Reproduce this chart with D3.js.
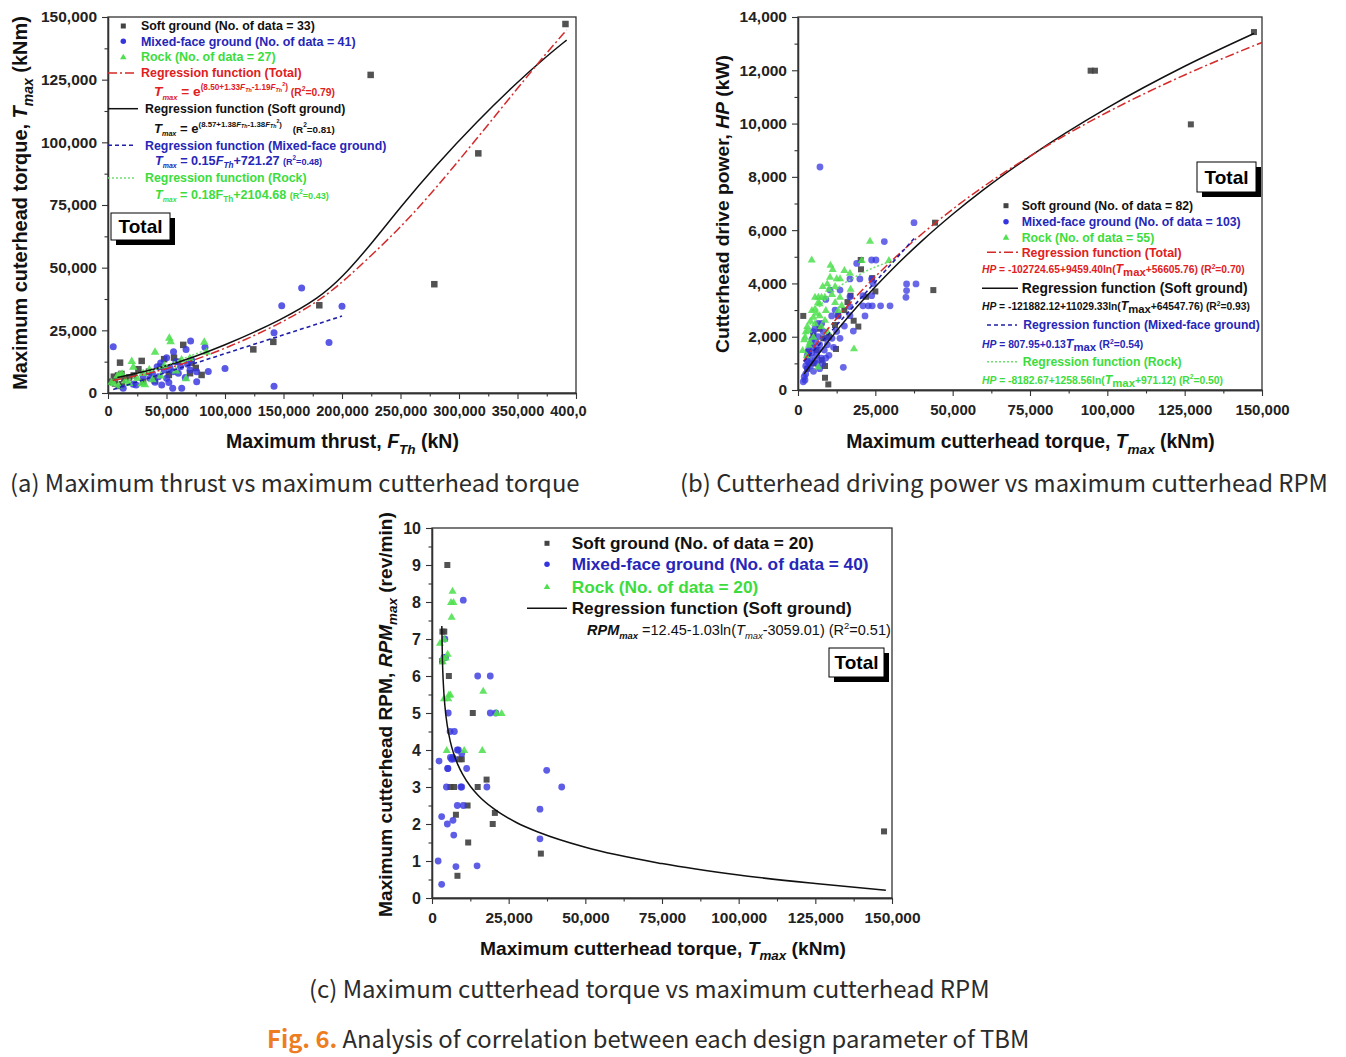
<!DOCTYPE html>
<html><head><meta charset="utf-8">
<script src="https://cdn.jsdelivr.net/npm/d3@7"></script>
<style>body{margin:0;background:#fff}svg{display:block}text{white-space:pre}</style>
</head><body>
<svg id="c" width="1346" height="1057"></svg>
<script>
// ---------------- DATA ----------------
// Panel (a): maximum thrust (kN) vs maximum cutterhead torque (kNm)
const xTicksA = [0,50000,100000,150000,200000,250000,300000,350000,400000];
const yTicksA = [0,25000,50000,75000,100000,125000,150000];
const softA = [[391000,147200],[224500,126900],[316500,95600],[278900,43400],[180600,35000],[141300,20400],[124200,17400],[80000,7200],[10300,12100],[28800,12800],[64300,19200],[56400,14100],[71400,12100],[70100,7900],[8500,7000],[11500,7600],[6000,3800],[9500,2800],[5000,6500],[14000,5500],[22000,7000],[35000,8500],[45000,10500],[52000,7200],[60000,12500],[40000,5000],[30000,4500],[18000,6200],[75000,10000],[48000,13500],[26000,9500],[12000,3500],[3500,4500]];
const mixedA = [[4500,18500],[165500,41900],[148500,34800],[200000,34600],[188900,20100],[141900,24000],[141900,2700],[100000,9800],[85700,8600],[82900,18300],[70600,20700],[66700,17400],[50100,14100],[71400,13200],[35900,5900],[43000,6500],[50100,5900],[53000,10100],[55800,8500],[60100,7900],[70100,9200],[75800,8500],[75800,4500],[63000,1900],[55300,1900],[45900,3200],[40200,4300],[21600,3500],[24000,3200],[13000,1900],[58000,12500],[62000,10500],[48000,9200],[38000,7800],[66000,6200],[30000,6800],[52000,4200],[45000,12000],[68000,11500],[56000,16500],[42000,10500]];
const rockA = [[40200,16500],[52400,22100],[53500,20700],[82300,20500],[84300,16500],[20300,12800],[21600,10500],[62900,13400],[35300,9500],[66700,5900],[28700,3900],[31600,3500],[3100,4500],[8000,7000],[10000,7500],[5000,4000],[9000,3000],[12000,7800],[15000,5000],[25000,6000],[45000,7000],[58000,9000],[38000,5500],[18000,4000],[70000,14000],[48000,11000],[30000,8000]];
const regTotalA = [[4000,5000],[50000,9100],[100000,17500],[150000,28250],[180000,36800],[200000,43800],[250000,65800],[280000,81550],[315000,101300],[350000,121600],[375000,135750],[392000,144800]];
const regSoftA = [[8000,6200],[50000,10300],[100000,18900],[150000,29600],[180000,37850],[200000,45950],[225000,59450],[250000,74200],[280000,90700],[315000,108200],[350000,124100],[375000,134400],[392000,140800]];
const regMixedA = [[4500,1400],[200000,30700]];
const regRockA = [[5000,3000],[85000,17400]];

// Panel (b): maximum cutterhead torque (kNm) vs cutterhead drive power (kW)
const xTicksB = [0,25000,50000,75000,100000,125000,150000];
const yTicksB = [0,2000,4000,6000,8000,10000,12000,14000];
const softB = [[147400,13435],[94600,11985],[96000,11985],[127000,9970],[44300,6280],[43750,3750],[20270,4880],[20370,4530],[17000,3540],[1700,2780],[11960,2440],[19500,2380],[4950,2060],[8180,1940],[12290,1540],[3330,1440],[7660,1125],[8730,900],[8730,460],[9800,210],[22000,3500],[25000,3700],[15000,3000],[10000,2000],[6000,1500],[13000,2800],[5000,1000],[3000,800],[24000,4200],[18000,2600],[7000,2300],[16000,3300]];
const mixedB = [[7100,8370],[37500,6280],[35100,3980],[38150,3980],[35100,3730],[34900,3480],[27900,5570],[18970,4750],[23800,4880],[25200,4880],[16800,4170],[20000,4170],[23800,4170],[24300,4000],[10350,3750],[13580,3750],[16800,3500],[21000,3540],[23800,3540],[9000,3400],[21000,3160],[22740,3160],[24000,3160],[26700,3160],[29750,3160],[16800,3130],[10900,2780],[7660,2500],[13000,2780],[16800,2790],[21660,2780],[17880,2210],[8180,2190],[4950,2190],[13580,1940],[11000,1940],[9000,1940],[3330,1375],[14650,850],[2260,375],[1700,310],[2500,600],[3000,800],[3500,1000],[4000,1200],[4500,1400],[5000,1600],[5500,1800],[6000,1300],[6500,1500],[7000,1700],[3000,1100],[4000,900],[5000,700],[6000,1000],[7500,1200],[8500,1500],[9500,1700],[2000,500],[2500,900],[3500,1500],[4500,1900],[5500,1100],[6500,2000],[8000,1000],[10000,1300],[11500,1600],[12500,2200],[7000,800],[9000,1200],[4000,1700],[5500,2300],[3000,1300],[6500,2500],[12000,3000],[15000,2400]];
const rockB = [[23280,5600],[29400,4880],[4430,4900],[20600,4880],[11200,4540],[16800,4400],[10350,4250],[9480,4000],[12500,4190],[13600,4190],[13580,3500],[5500,3500],[6600,3500],[7600,3500],[8700,3500],[14130,3190],[5500,3060],[7000,3250],[4950,2750],[8730,2630],[2260,2000],[3330,2250],[3880,1810],[18100,1560],[12000,3900],[11000,3600],[6000,2900],[3000,2400],[2000,1900],[4000,2600],[9000,3000],[10000,3800],[7000,2800],[15000,4500],[5000,2000],[2500,2200],[6500,3300],[8000,3900],[3500,1700],[1500,1500],[13000,3000],[9500,2200],[4500,3000],[17000,3800],[12000,3300],[2800,1300],[10500,4700],[7500,2400],[5500,2500],[6500,875]];
const regTotalB = [[1700,1076],[10000,2336],[20000,3659],[30000,4820],[50000,6786],[75000,8779],[100000,10424],[125000,11825],[150000,13044]];
const regSoftB = [[2000,605],[5000,1091],[10000,1857],[20000,3245],[30000,4478],[40000,5588],[50000,6595],[60000,7518],[75000,8772],[100000,10590],[125000,12150],[147400,13380]];
const regMixedB = [[2000,1068],[38000,5748]];
const regRockB = [[2000,1882],[5000,2760],[10000,3525],[20000,4341],[30000,4832]];

// Panel (c): maximum cutterhead torque (kNm) vs maximum cutterhead RPM
const xTicksC = [0,25000,50000,75000,100000,125000,150000];
const yTicksC = [0,1,2,3,4,5,6,7,8,9,10];
const softC = [[5000,9.0],[3400,7.2],[5500,6.0],[13300,5.0],[9700,3.75],[17800,3.2],[7200,3.0],[14900,3.0],[11600,2.5],[7800,2.25],[20500,2.3],[19800,2.0],[11800,1.5],[35500,1.2],[8300,0.6],[147400,1.8],[3300,6.4],[6000,3.0],[9000,3.75],[4000,7.2]];
const mixedC = [[10200,8.05],[4200,7.0],[3900,6.5],[4400,6.5],[14900,6.0],[19000,6.0],[5300,5.0],[19000,5.0],[20800,5.0],[5900,4.5],[7300,4.5],[8250,4.0],[9700,3.9],[2300,3.7],[6400,3.75],[7100,3.76],[5100,3.5],[11300,3.5],[37400,3.45],[4700,3.0],[9400,3.0],[9700,3.0],[17900,3.0],[42300,3.0],[8250,2.5],[10200,2.5],[35200,2.4],[3150,2.2],[6850,2.1],[5000,2.0],[7100,1.7],[35200,1.6],[2000,1.0],[7800,0.85],[14700,0.87],[3150,0.37],[6000,3.8],[6800,3.8],[8600,4.0],[5200,3.5]];
const rockC = [[6700,8.3],[6200,8.0],[6400,7.6],[2600,6.9],[5100,6.6],[3500,6.4],[5500,5.5],[3900,5.4],[16700,5.6],[22700,5.0],[21100,5.0],[4800,4.0],[10500,4.0],[16400,4.0],[4000,7.0],[6000,5.5],[7000,8.0],[4500,6.5],[3600,6.5],[5300,5.4]];
const regSoftC = [[3200,7.35],[3400,6.44],[3700,5.79],[4200,5.20],[5000,4.65],[6000,4.22],[7000,3.92],[8500,3.59],[10000,3.34],[12500,3.02],[15000,2.78],[20000,2.42],[27500,2.04],[35000,1.77],[50000,1.37],[75000,0.93],[100000,0.62],[125000,0.39],[148000,0.21]];

// ---------------- DRAWING ----------------
const svg = d3.select("#c");
const FONT = "'Liberation Sans', Arial, Helvetica, sans-serif";
const CAPF = "'Noto Sans CJK KR', 'Noto Sans', sans-serif";
const C_SOFT = "#434343", C_MIX = "#3535e0", C_ROCK = "#4ee04e";
const T_MIX = "#2626b8", T_ROCK = "#3ddc3d", T_RED = "#e0211d";
const L_RED = "#d42a2a", L_BLUE = "#1f1fa8", L_GREEN = "#6fe06f";

function rich(g, o, parts) {
  const t = g.append("text")
    .attr("font-family", o.family || FONT)
    .attr("font-weight", o.weight || "bold")
    .attr("fill", o.color || "#111")
    .attr("text-anchor", o.anchor || "start");
  if (o.rotate) t.attr("transform", `translate(${o.x},${o.y}) rotate(-90)`);
  function build(S) {
    t.selectAll("tspan").remove();
    t.attr("font-size", S);
    t.attr("x", o.rotate ? 0 : o.x).attr("y", (o.rotate ? 0 : o.y) + 0.35 * S);
    let cur = 0;
    parts.forEach(p => {
      const q = typeof p === "string" ? {t: p} : p;
      const sp = t.append("tspan").text(q.t);
      const target = (q.dy || 0) * S;
      sp.attr("dy", target - cur); cur = target;
      if (q.s) sp.attr("font-size", S * q.s);
      if (q.i) sp.attr("font-style", "italic");
      if (q.w) sp.attr("font-weight", q.w);
      if (q.c) sp.attr("fill", q.c);
    });
  }
  build(o.size);
  if (o.width) {
    const w = t.node().getBBox().width;
    if (w > 0) build(o.size * o.width / w);
  }
  return t;
}

function panel(cfg) {
  const g = svg.append("g");
  if (cfg.clip) {
    svg.append("clipPath").attr("id", cfg.clip.id).append("rect")
      .attr("x", cfg.clip.x).attr("y", cfg.clip.y).attr("width", cfg.clip.w).attr("height", cfg.clip.h);
    g.attr("clip-path", `url(#${cfg.clip.id})`);
  }
  const x = d3.scaleLinear().domain(cfg.xd).range([cfg.x0, cfg.x1]);
  const y = d3.scaleLinear().domain(cfg.yd).range([cfg.y0, cfg.y1]);
  const xa = g.append("g").attr("transform", `translate(0,${cfg.y0})`)
    .call(d3.axisBottom(x).tickValues(cfg.xt).tickFormat(cfg.xf).tickSize(6).tickSizeOuter(0).tickPadding(cfg.xpad));
  g.append("g").attr("transform", `translate(0,${cfg.y0})`)
    .call(d3.axisBottom(x).tickValues(cfg.xm).tickFormat("").tickSize(3.5).tickSizeOuter(0));
  const ya = g.append("g").attr("transform", `translate(${cfg.x0},0)`)
    .call(d3.axisLeft(y).tickValues(cfg.yt).tickFormat(cfg.yf).tickSize(6).tickSizeOuter(0).tickPadding(cfg.ypad));
  g.append("g").attr("transform", `translate(${cfg.x0},0)`)
    .call(d3.axisLeft(y).tickValues(cfg.ym).tickFormat("").tickSize(3.5).tickSizeOuter(0));
  g.selectAll(".tick line").attr("stroke", "#333").attr("stroke-width", 1.1);
  g.selectAll(".domain").attr("stroke", "#333").attr("stroke-width", 1.3);
  xa.selectAll("text").attr("font-family", FONT).attr("font-weight", "bold").attr("font-size", cfg.xfs).attr("fill", "#222");
  ya.selectAll("text").attr("font-family", FONT).attr("font-weight", "bold").attr("font-size", cfg.yfs).attr("fill", "#222");
  g.append("rect").attr("x", cfg.x0).attr("y", cfg.y1).attr("width", cfg.x1 - cfg.x0).attr("height", cfg.y0 - cfg.y1)
    .attr("fill", "none").attr("stroke", "#333").attr("stroke-width", 1.3);
  return {g, x, y};
}

function marker(g, kind, cx, cy, sz, color, op) {
  if (kind === "sq") {
    g.append("rect").attr("x", cx - sz / 2).attr("y", cy - sz / 2).attr("width", sz).attr("height", sz)
      .attr("fill", color).attr("opacity", op);
  } else if (kind === "ci") {
    g.append("circle").attr("cx", cx).attr("cy", cy).attr("r", sz / 2).attr("fill", color).attr("opacity", op);
  } else {
    g.append("path").attr("d", d3.symbol(d3.symbolTriangle, sz * sz * 0.5)())
      .attr("transform", `translate(${cx},${cy + sz * 0.08})`).attr("fill", color).attr("opacity", op);
  }
}
function points(p, data, kind, sz, color, op) {
  const gg = p.g.append("g");
  data.forEach(d => marker(gg, kind, p.x(d[0]), p.y(d[1]), sz, color, op));
}
const LS = {
  red: {c: L_RED, w: 1.5, da: "9,3,2,3"},
  black: {c: "#111", w: 1.5, da: null},
  blue: {c: L_BLUE, w: 1.6, da: "4,3"},
  green: {c: L_GREEN, w: 1.5, da: "2,2"}
};
function curve(p, data, st, cv) {
  const line = d3.line().x(d => p.x(d[0])).y(d => p.y(d[1])).curve(cv || d3.curveMonotoneX);
  const path = p.g.append("path").datum(data).attr("d", line).attr("fill", "none")
    .attr("stroke", st.c).attr("stroke-width", st.w);
  if (st.da) path.attr("stroke-dasharray", st.da);
}
function legLine(g, x0, x1, y, st) {
  const l = g.append("line").attr("x1", x0).attr("x2", x1).attr("y1", y).attr("y2", y)
    .attr("stroke", st.c).attr("stroke-width", st.w);
  if (st.da) l.attr("stroke-dasharray", st.da);
}
function totalBox(g, x, y, w, h, fs) {
  g.append("rect").attr("x", x + 5).attr("y", y + 5).attr("width", w).attr("height", h).attr("fill", "#000");
  g.append("rect").attr("x", x).attr("y", y).attr("width", w).attr("height", h)
    .attr("fill", "#fff").attr("stroke", "#000").attr("stroke-width", 1);
  rich(g, {x: x + w / 2, y: y + h / 2, size: fs, anchor: "middle", color: "#000"}, ["Total"]);
}
const fmt = d3.format(",");

// ---------- Panel (a) ----------
const pa = panel({
  xd: [0, 400000], yd: [0, 150000], x0: 108, x1: 576, y0: 393, y1: 17,
  xt: xTicksA, yt: yTicksA, xm: d3.range(25000, 400000, 50000), ym: d3.range(12500, 150000, 25000),
  xf: fmt, yf: fmt, xfs: 14.5, yfs: 15.5, xpad: 7, ypad: 5,
  clip: {id: "clipA", x: 0, y: 0, w: 587, h: 520}
});
points(pa, softA, "sq", 6.5, C_SOFT, 0.92);
points(pa, mixedA, "ci", 7, C_MIX, 0.82);
points(pa, rockA, "tr", 8, C_ROCK, 0.88);
curve(pa, regSoftA, LS.black, d3.curveBasis);
curve(pa, regTotalA, LS.red, d3.curveBasis);
curve(pa, regMixedA, LS.blue);
curve(pa, regRockA, LS.green);
{
  const g = pa.g;
  marker(g, "sq", 123.3, 26, 5, C_SOFT, 1);
  marker(g, "ci", 123.3, 41.3, 5.5, C_MIX, 1);
  marker(g, "tr", 123.3, 57, 6, C_ROCK, 1);
  rich(g, {x: 141, y: 26, size: 12.5, width: 174}, ["Soft ground (No. of data = 33)"]);
  rich(g, {x: 141, y: 41.3, size: 12.5, width: 214.7, color: T_MIX}, ["Mixed-face ground (No. of data = 41)"]);
  rich(g, {x: 141, y: 57, size: 12.5, width: 134.7, color: T_ROCK}, ["Rock (No. of data = 27)"]);
  legLine(g, 108, 137, 73, LS.red);
  rich(g, {x: 141, y: 73, size: 12.5, width: 160.7, color: T_RED}, ["Regression function (Total)"]);
  const expF = (a, b, r2, gap) => [
    {t: "T", i: 1}, {t: "max", i: 1, s: 0.55, dy: 0.25}, {t: " = e", dy: 0},
    {t: "(" + a + "+" + b.split("|")[0], s: 0.6, dy: -0.45}, {t: "F", s: 0.6, i: 1, dy: -0.45},
    {t: "Th", s: 0.4, i: 1, dy: -0.32}, {t: b.split("|")[1], s: 0.6, dy: -0.45}, {t: "F", s: 0.6, i: 1, dy: -0.45},
    {t: "Th", s: 0.4, i: 1, dy: -0.32}, {t: "2", s: 0.4, dy: -0.75}, {t: ")", s: 0.6, dy: -0.45},
    {t: gap + "(R", s: 0.75, dy: 0}, {t: "2", s: 0.5, dy: -0.4}, {t: "=" + r2 + ")", s: 0.75, dy: 0}
  ];
  rich(g, {x: 154, y: 91.3, size: 12, width: 181, color: T_RED}, expF("8.50", "1.33|-1.19", "0.79", " "));
  legLine(g, 108, 138, 108.7, LS.black);
  rich(g, {x: 145, y: 108.7, size: 12.5, width: 200.7, color: "#111"}, ["Regression function (Soft ground)"]);
  rich(g, {x: 154, y: 128, size: 12, width: 181, color: "#111"}, expF("8.57", "1.38|-1.38", "0.81", "    "));
  legLine(g, 108, 135, 145.3, LS.blue);
  rich(g, {x: 145, y: 145.3, size: 12.5, width: 241.7, color: T_MIX}, ["Regression function (Mixed-face ground)"]);
  rich(g, {x: 155, y: 160.3, size: 12.5, width: 167.3, color: T_MIX}, [
    {t: "T", i: 1}, {t: "max", i: 1, s: 0.55, dy: 0.25}, {t: " = 0.15", dy: 0}, {t: "F", i: 1, dy: 0},
    {t: "Th", i: 1, s: 0.65, dy: 0.25}, {t: "+721.27 ", dy: 0}, {t: "(R", s: 0.72, dy: 0}, {t: "2", s: 0.5, dy: -0.4}, {t: "=0.48)", s: 0.72, dy: 0}]);
  legLine(g, 108, 135, 178, LS.green);
  rich(g, {x: 145, y: 178, size: 12.5, width: 161.7, color: T_ROCK}, ["Regression function (Rock)"]);
  rich(g, {x: 155, y: 194.7, size: 12.5, width: 174, color: T_ROCK}, [
    {t: "T", i: 1}, {t: "max", i: 1, s: 0.55, dy: 0.25}, {t: " = 0.18F", dy: 0},
    {t: "Th", s: 0.65, dy: 0.25}, {t: "+2104.68 ", dy: 0}, {t: "(R", s: 0.72, dy: 0}, {t: "2", s: 0.5, dy: -0.4}, {t: "=0.43)", s: 0.72, dy: 0}]);
  totalBox(g, 111, 213, 59, 27, 19);
  rich(g, {x: 342.5, y: 441, size: 19, width: 233, anchor: "middle", color: "#111"},
    ["Maximum thrust, ", {t: "F", i: 1}, {t: "Th", i: 1, s: 0.7, dy: 0.3}, {t: " (kN)", dy: 0}]);
  rich(g, {x: 20, y: 203, size: 19, width: 374, anchor: "middle", rotate: 1, color: "#111"},
    ["Maximum cuterhead torque, ", {t: "T", i: 1}, {t: "max", i: 1, s: 0.7, dy: 0.3}, {t: " (kNm)", dy: 0}]);
}

// ---------- Panel (b) ----------
const pb = panel({
  xd: [0, 150000], yd: [0, 14000], x0: 798, x1: 1262, y0: 390, y1: 17,
  xt: xTicksB, yt: yTicksB, xm: d3.range(12500, 150000, 25000), ym: d3.range(1000, 14000, 2000),
  xf: fmt, yf: fmt, xfs: 15, yfs: 15.5, xpad: 8, ypad: 5
});
points(pb, softB, "sq", 6, C_SOFT, 0.9);
points(pb, mixedB, "ci", 6.8, C_MIX, 0.75);
points(pb, rockB, "tr", 7.5, C_ROCK, 0.85);
curve(pb, regSoftB, LS.black);
curve(pb, regTotalB, LS.red);
curve(pb, regMixedB, LS.blue);
curve(pb, regRockB, LS.green);
{
  const g = pb.g;
  marker(g, "sq", 1006, 205.7, 5, C_SOFT, 1);
  marker(g, "ci", 1006, 221.7, 5.5, C_MIX, 1);
  marker(g, "tr", 1006, 237.3, 6, C_ROCK, 1);
  rich(g, {x: 1021.7, y: 205.7, size: 12.3, width: 171.6}, ["Soft ground (No. of data = 82)"]);
  rich(g, {x: 1021.7, y: 221.7, size: 12.3, width: 219.3, color: T_MIX}, ["Mixed-face ground (No. of data = 103)"]);
  rich(g, {x: 1021.7, y: 237.3, size: 12.3, width: 132.6, color: T_ROCK}, ["Rock (No. of data = 55)"]);
  legLine(g, 987, 1018, 252.3, LS.red);
  rich(g, {x: 1021.7, y: 252.3, size: 12.3, width: 160, color: T_RED}, ["Regression function (Total)"]);
  const lnF = (a, b, c, r2) => [
    {t: "HP", i: 1}, {t: " = " + a + "+" + b + "ln(", dy: 0}, {t: "T", i: 1, s: 1.2, dy: 0},
    {t: "max", s: 1.1, dy: 0.3}, {t: "+" + c + ") (R", dy: 0}, {t: "2", s: 0.65, dy: -0.4}, {t: "=" + r2 + ")", dy: 0}];
  rich(g, {x: 982, y: 269.3, size: 9.5, width: 263, color: T_RED}, lnF("-102724.65", "9459.40", "56605.76", "0.70"));
  legLine(g, 982, 1018, 288.3, LS.black);
  rich(g, {x: 1021.7, y: 288.3, size: 12.3, width: 226}, ["Regression function (Soft ground)"]);
  rich(g, {x: 982, y: 306.7, size: 9.5, width: 268}, lnF("-121882.12", "11029.33", "64547.76", "0.93"));
  legLine(g, 987, 1017, 325, LS.blue);
  rich(g, {x: 1023.3, y: 325, size: 12.3, width: 236.7, color: T_MIX}, ["Regression function (Mixed-face ground)"]);
  rich(g, {x: 982, y: 344.3, size: 9.5, width: 161.3, color: T_MIX}, [
    {t: "HP", i: 1}, {t: " = 807.95+0.13", dy: 0}, {t: "T", i: 1, s: 1.2, dy: 0}, {t: "max", s: 1.1, dy: 0.3},
    {t: " (R", dy: 0}, {t: "2", s: 0.65, dy: -0.4}, {t: "=0.54)", dy: 0}]);
  legLine(g, 987, 1017, 361.7, LS.green);
  rich(g, {x: 1022.7, y: 361.7, size: 12.3, width: 159, color: T_ROCK}, ["Regression function (Rock)"]);
  rich(g, {x: 982, y: 380, size: 9.5, width: 241.3, color: T_ROCK}, lnF("-8182.67", "1258.56", "971.12", "0.50"));
  totalBox(g, 1197, 162, 59, 30, 19);
  rich(g, {x: 1030.5, y: 441, size: 19, width: 369, anchor: "middle"},
    ["Maximum cutterhead torque, ", {t: "T", i: 1}, {t: "max", i: 1, s: 0.7, dy: 0.3}, {t: " (kNm)", dy: 0}]);
  rich(g, {x: 722, y: 204, size: 19, width: 298, anchor: "middle", rotate: 1},
    ["Cutterhead drive power, ", {t: "HP", i: 1}, {t: " (kW)", dy: 0}]);
}

// ---------- Panel (c) ----------
const pc = panel({
  xd: [0, 150000], yd: [0, 10], x0: 432, x1: 892, y0: 898, y1: 528,
  xt: xTicksC, yt: yTicksC, xm: d3.range(12500, 150000, 25000), ym: d3.range(0.5, 10, 1),
  xf: fmt, yf: d3.format("d"), xfs: 15.5, yfs: 16, xpad: 8, ypad: 5
});
points(pc, softC, "sq", 6, C_SOFT, 0.92);
points(pc, mixedC, "ci", 6.8, C_MIX, 0.8);
points(pc, rockC, "tr", 7.5, C_ROCK, 0.88);
curve(pc, regSoftC, LS.black);
{
  const g = pc.g;
  marker(g, "sq", 547, 543.3, 5, C_SOFT, 1);
  marker(g, "ci", 547, 564.3, 5.5, C_MIX, 1);
  marker(g, "tr", 547, 586.7, 6, C_ROCK, 1);
  rich(g, {x: 571.7, y: 543.3, size: 17, width: 242}, ["Soft ground (No. of data = 20)"]);
  rich(g, {x: 571.7, y: 564.3, size: 17, width: 297, color: T_MIX}, ["Mixed-face ground (No. of data = 40)"]);
  rich(g, {x: 571.7, y: 586.7, size: 17, width: 186.7, color: T_ROCK}, ["Rock (No. of data = 20)"]);
  legLine(g, 527, 567, 608.3, LS.black);
  rich(g, {x: 571.7, y: 608.3, size: 17, width: 280}, ["Regression function (Soft ground)"]);
  rich(g, {x: 587, y: 630, size: 13.5, width: 304, weight: "normal"}, [
    {t: "RPM", i: 1, w: "bold"}, {t: "max", i: 1, w: "bold", s: 0.65, dy: 0.3}, {t: " =12.45-1.03ln(", dy: 0},
    {t: "T", i: 1, dy: 0}, {t: "max", i: 1, s: 0.65, dy: 0.3}, {t: "-3059.01) (R", dy: 0}, {t: "2", s: 0.65, dy: -0.4}, {t: "=0.51)", dy: 0}]);
  totalBox(g, 829, 648, 55, 29, 19);
  rich(g, {x: 663, y: 948, size: 19, width: 366, anchor: "middle"},
    ["Maximum cutterhead torque, ", {t: "T", i: 1}, {t: "max", i: 1, s: 0.7, dy: 0.3}, {t: " (kNm)", dy: 0}]);
  rich(g, {x: 385, y: 714.5, size: 19, width: 405, anchor: "middle", rotate: 1},
    ["Maximum cutterhead RPM, ", {t: "RPM", i: 1}, {t: "max", i: 1, s: 0.7, dy: 0.3}, {t: " (rev/min)", dy: 0}]);
}

// ---------- Captions ----------
const cap = svg.append("g");
rich(cap, {x: 10, y: 484, size: 23, width: 570, family: CAPF, weight: "normal", color: "#2b2b2b"},
  ["(a) Maximum thrust vs maximum cutterhead torque"]);
rich(cap, {x: 680, y: 484, size: 23, width: 648, family: CAPF, weight: "normal", color: "#2b2b2b"},
  ["(b) Cutterhead driving power vs maximum cutterhead RPM"]);
rich(cap, {x: 309, y: 990, size: 23, width: 681, family: CAPF, weight: "normal", color: "#2b2b2b"},
  ["(c) Maximum cutterhead torque vs maximum cutterhead RPM"]);
rich(cap, {x: 267, y: 1040, size: 23, width: 763, family: CAPF, weight: "normal", color: "#2b2b2b"},
  [{t: "Fig. 6.", w: "bold", c: "#ee7d22"}, {t: " Analysis of correlation between each design parameter of TBM", dy: 0}]);
</script>
</body></html>
